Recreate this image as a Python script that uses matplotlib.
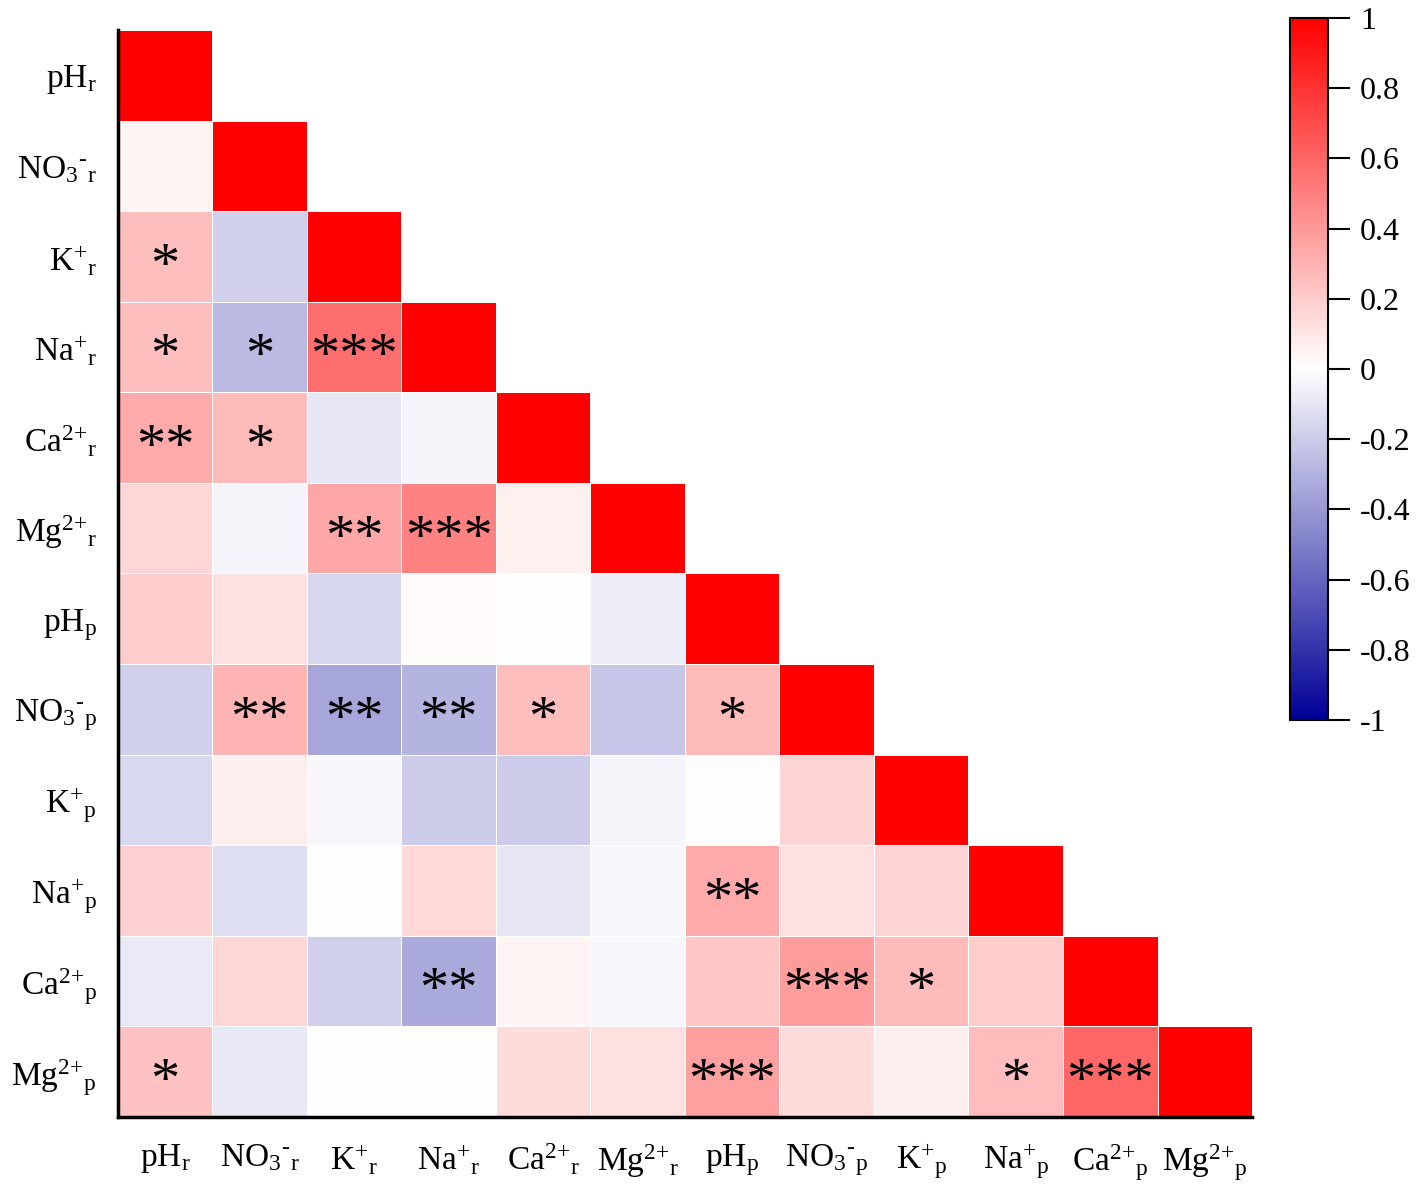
import numpy as np
import matplotlib
matplotlib.use("Agg")
import matplotlib.pyplot as plt
from matplotlib.colors import LinearSegmentedColormap

plt.rcParams['font.family'] = ['Liberation Serif', 'DejaVu Serif']
plt.rcParams['mathtext.fontset'] = 'custom'
plt.rcParams['mathtext.rm'] = 'Liberation Serif'
plt.rcParams['mathtext.it'] = 'Liberation Serif:italic'

labels = [r'$\mathrm{pH_{r}}$', r'$\mathrm{NO_{3}{}^{\text{-}}{}_{r}}$', r'$\mathrm{K^{+}{}_{r}}$',
          r'$\mathrm{Na^{+}{}_{r}}$', r'$\mathrm{Ca^{\text{2+}}{}_{r}}$', r'$\mathrm{Mg^{\text{2+}}{}_{r}}$',
          r'$\mathrm{pH_{p}}$', r'$\mathrm{NO_{3}{}^{\text{-}}{}_{p}}$', r'$\mathrm{K^{+}{}_{p}}$',
          r'$\mathrm{Na^{+}{}_{p}}$', r'$\mathrm{Ca^{\text{2+}}{}_{p}}$', r'$\mathrm{Mg^{\text{2+}}{}_{p}}$']

# lower triangle of the correlation matrix, row by row
r_pH_r = [1.0]
r_NO3_r = [0.04, 1.0]
r_K_r = [0.25, -0.18, 1.0]
r_Na_r = [0.25, -0.27, 0.57, 1.0]
r_Ca_r = [0.33, 0.27, -0.10, -0.04, 1.0]
r_Mg_r = [0.16, -0.04, 0.35, 0.49, 0.06, 1.0]
r_pH_p = [0.20, 0.12, -0.16, 0.02, 0.00, -0.07, 1.0]
r_NO3_p = [-0.18, 0.29, -0.35, -0.29, 0.25, -0.22, 0.27, 1.0]
r_K_p = [-0.15, 0.07, -0.03, -0.20, -0.20, -0.04, 0.01, 0.17, 1.0]
r_Na_p = [0.18, -0.13, 0.00, 0.15, -0.10, -0.03, 0.33, 0.12, 0.17, 1.0]
r_Ca_p = [-0.08, 0.16, -0.18, -0.33, 0.04, -0.03, 0.22, 0.39, 0.27, 0.20, 1.0]
r_Mg_p = [0.24, -0.09, 0.00, 0.01, 0.14, 0.12, 0.37, 0.14, 0.07, 0.26, 0.60, 1.0]

# significance marks, same layout
s_pH_r = ['']
s_NO3_r = ['', '']
s_K_r = ['*', '', '']
s_Na_r = ['*', '*', '***', '']
s_Ca_r = ['**', '*', '', '', '']
s_Mg_r = ['', '', '**', '***', '', '']
s_pH_p = ['', '', '', '', '', '', '']
s_NO3_p = ['', '**', '**', '**', '*', '', '*', '']
s_K_p = ['', '', '', '', '', '', '', '', '']
s_Na_p = ['', '', '', '', '', '', '**', '', '', '']
s_Ca_p = ['', '', '', '**', '', '', '', '***', '*', '', '']
s_Mg_p = ['*', '', '', '', '', '', '***', '', '', '*', '***', '']

rows = [r_pH_r, r_NO3_r, r_K_r, r_Na_r, r_Ca_r, r_Mg_r,
        r_pH_p, r_NO3_p, r_K_p, r_Na_p, r_Ca_p, r_Mg_p]
sigs = [s_pH_r, s_NO3_r, s_K_r, s_Na_r, s_Ca_r, s_Mg_r,
        s_pH_p, s_NO3_p, s_K_p, s_Na_p, s_Ca_p, s_Mg_p]

n = len(labels)
mat = np.full((n, n), np.nan)
for i, row in enumerate(rows):
    mat[i, :len(row)] = row
mat = np.ma.masked_invalid(mat)

cmap = LinearSegmentedColormap.from_list('bwr2', ['#000096', '#ffffff', '#ff0000'])

fig = plt.figure(figsize=(14.18, 11.98), dpi=100)
ax = fig.add_axes([0.083, 0.0676, 0.800, 0.9074])
mesh = ax.pcolormesh(np.arange(n + 1), np.arange(n + 1), mat, cmap=cmap, vmin=-1, vmax=1,
                     edgecolor='white', linewidth=0.4)
ax.set_xlim(0, n)
ax.set_ylim(n, 0)

for i, row in enumerate(sigs):
    for j, s in enumerate(row):
        if s:
            ax.text(j + 0.5, i + 0.5 + 0.28, s, ha='center', va='baseline', fontsize=42)

ax.set_xticks(np.arange(n) + 0.5)
ax.set_xticklabels(labels, fontsize=24)
ax.set_yticks(np.arange(n) + 0.5)
ax.set_yticklabels(labels, fontsize=24)
ax.tick_params(axis='y', length=0, pad=15)
ax.tick_params(axis='x', length=0, pad=18)
for side in ['top', 'right']:
    ax.spines[side].set_visible(False)
for side in ['left', 'bottom']:
    ax.spines[side].set_linewidth(2.5)

cax = fig.add_axes([0.9097, 0.399, 0.0268, 0.586])
cb = fig.colorbar(mesh, cax=cax, ticks=np.linspace(-1, 1, 11))
cb.ax.set_yticklabels(['-1', '-0.8', '-0.6', '-0.4', '-0.2', '0', '0.2', '0.4', '0.6', '0.8', '1'])
cb.ax.tick_params(labelsize=23, length=16, width=1.5, pad=7)
cb.outline.set_linewidth(1.5)

fig.savefig('out.png', dpi=100)
